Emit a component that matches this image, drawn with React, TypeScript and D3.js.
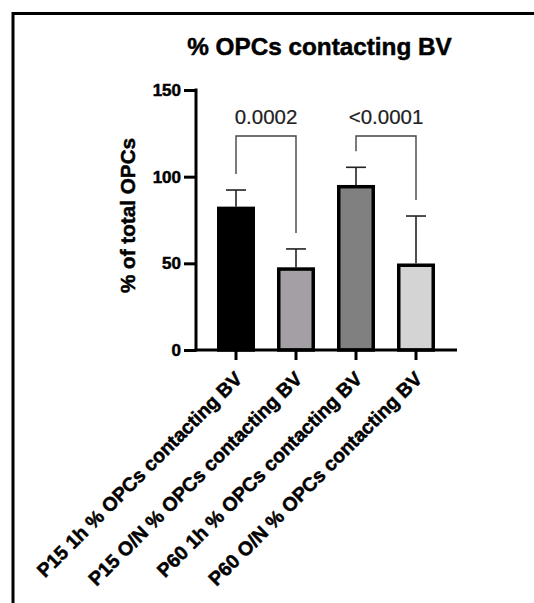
import React, { useEffect, useRef } from "react";
import * as d3 from "d3";

const categories = [
  "P15 1h % OPCs contacting BV",
  "P15 O/N % OPCs contacting BV",
  "P60 1h % OPCs contacting BV",
  "P60 O/N % OPCs contacting BV",
];
const means = [81.7, 46.7, 94.2, 48.9];
const sds = [10.6, 11.6, 11.2, 28.4];
const fills = ["#000000", "#a49fa5", "#808080", "#d4d4d4"];
const yTicks = [0, 50, 100, 150];
const comparisons = [
  { from: 0, to: 1, label: "0.0002" },
  { from: 2, to: 3, label: "<0.0001" },
];
const bracketLevel = 123.5;
const title = "% OPCs contacting BV";
const yLabel = "% of total OPCs";

const W = 534;
const H = 603;

export default function App() {
  const ref = useRef<SVGSVGElement | null>(null);

  useEffect(() => {
    const svg = d3.select(ref.current);
    svg.selectAll("*").remove();
    const font = "'Liberation Sans', Arial, sans-serif";
    const boldStroke = 0.5;

    const x = d3
      .scaleBand<string>()
      .domain(categories)
      .range([196, 456])
      .paddingInner(0)
      .paddingOuter(1 / 6);
    const y = d3.scaleLinear().domain([0, 150]).range([350, 90]);
    const cx = (i: number) => (x(categories[i]) as number) + x.bandwidth() / 2;
    const barW = 34.5;

    // frame
    svg
      .append("path")
      .attr("d", `M13,${H + 5}V13.5H${W + 5}`)
      .attr("fill", "none")
      .attr("stroke", "#000")
      .attr("stroke-width", 3);

    // title
    svg
      .append("text")
      .attr("x", 319.5)
      .attr("y", 55)
      .attr("text-anchor", "middle")
      .attr("font-family", font)
      .attr("font-weight", "bold")
      .attr("font-size", 24.3)
      .attr("fill", "#000")
      .attr("stroke", "#000")
      .attr("stroke-width", boldStroke)
      .text(title);

    // bars
    const g = svg.append("g");
    categories.forEach((c, i) => {
      g.append("rect")
        .attr("x", cx(i) - barW / 2)
        .attr("y", y(means[i]))
        .attr("width", barW)
        .attr("height", y(0) - y(means[i]))
        .attr("fill", fills[i])
        .attr("stroke", "#000")
        .attr("stroke-width", 3.5);
      const top = y(means[i] + sds[i]);
      g.append("line")
        .attr("x1", cx(i))
        .attr("x2", cx(i))
        .attr("y1", y(means[i]) - 1.75)
        .attr("y2", top)
        .attr("stroke", "#222")
        .attr("stroke-width", 1.6);
      g.append("line")
        .attr("x1", cx(i) - 10)
        .attr("x2", cx(i) + 10)
        .attr("y1", top)
        .attr("y2", top)
        .attr("stroke", "#222")
        .attr("stroke-width", 1.6);
    });

    // y axis
    const yAxis = d3
      .axisLeft(y)
      .tickValues(yTicks)
      .tickSize(12)
      .tickSizeOuter(0)
      .tickPadding(3)
      .tickFormat(d3.format("d") as any);
    const ya = svg.append("g").attr("transform", "translate(196,0)").call(yAxis);
    ya.select(".domain").attr("stroke", "#000").attr("stroke-width", 3).attr("d", "M0,88.5V351.5");
    ya.selectAll(".tick line").attr("stroke", "#000").attr("stroke-width", 3);
    ya.selectAll(".tick text")
      .attr("font-family", font)
      .attr("font-weight", "bold")
      .attr("font-size", 17)
      .attr("fill", "#000")
      .attr("stroke", "#000")
      .attr("stroke-width", boldStroke);

    // x axis
    const xAxis = d3.axisBottom(x).tickSize(10).tickSizeOuter(0).tickFormat(() => "");
    const xa = svg.append("g").attr("transform", "translate(0,350)").call(xAxis);
    xa.select(".domain").attr("stroke", "#000").attr("stroke-width", 3).attr("d", "M194.5,0H457");
    xa.selectAll(".tick line").attr("stroke", "#000").attr("stroke-width", 3);

    // x labels
    categories.forEach((c, i) => {
      svg
        .append("text")
        .attr("transform", `translate(${cx(i) + 7.5},380) rotate(-45)`)
        .attr("text-anchor", "end")
        .attr("font-family", font)
        .attr("font-weight", "bold")
        .attr("font-size", 19.5)
        .attr("fill", "#000")
        .attr("stroke", "#000")
        .attr("stroke-width", boldStroke)
        .text(c);
    });

    // y label
    svg
      .append("text")
      .attr("transform", `translate(135,215.5) rotate(-90)`)
      .attr("text-anchor", "middle")
      .attr("font-family", font)
      .attr("font-weight", "bold")
      .attr("font-size", 20.7)
      .attr("fill", "#000")
      .attr("stroke", "#000")
      .attr("stroke-width", boldStroke)
      .text(yLabel);

    // significance brackets
    const by = y(bracketLevel);
    comparisons.forEach((cmp) => {
      const x1 = cx(cmp.from);
      const x2 = cx(cmp.to);
      const l1 = y(means[cmp.from] + sds[cmp.from]) - 16;
      const l2 = y(means[cmp.to] + sds[cmp.to]) - 16;
      svg
        .append("path")
        .attr("d", `M${x1},${l1}V${by}H${x2}V${l2}`)
        .attr("fill", "none")
        .attr("stroke", "#444")
        .attr("stroke-width", 1.4);
      svg
        .append("text")
        .attr("x", (x1 + x2) / 2)
        .attr("y", by - 12)
        .attr("text-anchor", "middle")
        .attr("font-family", font)
        .attr("font-size", 20.5)
        .attr("fill", "#222")
        .attr("stroke", "#222")
        .attr("stroke-width", 0.2)
        .text(cmp.label);
    });
  }, []);

  return (
    <svg
      ref={ref}
      width={W}
      height={H}
      style={{ position: "absolute", left: 0, top: 0, background: "#fff" }}
    />
  );
}
